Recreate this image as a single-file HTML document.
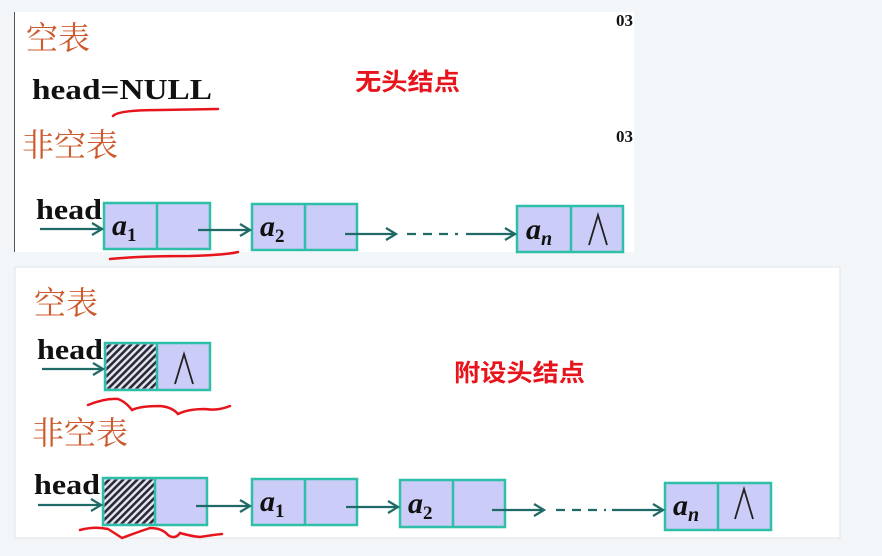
<!DOCTYPE html>
<html><head><meta charset="utf-8"><style>
html,body{margin:0;padding:0;background:#f3f6f8;}
svg{display:block;}
</style></head><body>
<svg width="882" height="556" viewBox="0 0 882 556" xmlns="http://www.w3.org/2000/svg" font-family="'Liberation Serif','Noto Serif CJK SC',serif">
<defs>
<pattern id="h" width="5" height="5" patternUnits="userSpaceOnUse" patternTransform="rotate(45)">
<rect width="5" height="5" fill="#e8e8f0"/><rect width="2.6" height="5" fill="#2a2a3a"/>
</pattern>
<marker id="ar" markerWidth="14" markerHeight="14" refX="12" refY="7" orient="auto" markerUnits="userSpaceOnUse">
<path d="M2,1 L12,7 L2,13" fill="none" stroke="#1f6a66" stroke-width="2.2"/>
</marker>
</defs>
<rect x="14" y="12" width="620" height="240" fill="#fff"/>
<line x1="14.5" y1="12" x2="14.5" y2="252" stroke="#555" stroke-width="1"/>
<rect x="15" y="267" width="825" height="271" fill="#fff" stroke="#e0e3e6"/>

<g fill="#cc5a2e" font-family="'Noto Serif CJK SC','Noto Sans CJK SC',serif" font-size="32">
<text x="26" y="49">空表</text>
<text x="22" y="156">非空表</text>
<text x="34" y="314">空表</text>
<text x="32" y="444">非空表</text>
</g>
<g font-weight="bold" fill="#111">
<text x="32" y="99" font-size="29" textLength="180" lengthAdjust="spacingAndGlyphs">head=NULL</text>
<text x="36" y="219" font-size="28" textLength="66" lengthAdjust="spacingAndGlyphs">head</text>
<text x="37" y="359" font-size="28" textLength="66" lengthAdjust="spacingAndGlyphs">head</text>
<text x="34" y="494" font-size="28" textLength="66" lengthAdjust="spacingAndGlyphs">head</text>
<text x="616" y="26" font-size="17">03</text>
<text x="616" y="142" font-size="17">03</text>
</g>
<g fill="#e8141c" font-family="'Noto Sans CJK SC',sans-serif" font-weight="bold" font-size="24">
<text x="355" y="90" textLength="105" lengthAdjust="spacingAndGlyphs">无头结点</text>
<text x="454" y="381" textLength="131" lengthAdjust="spacingAndGlyphs">附设头结点</text>
</g>

<g stroke="#2fbfa8" stroke-width="2.5" fill="#ccccf8">
<rect x="104" y="203" width="106" height="46"/><line x1="157" y1="203" x2="157" y2="249"/>
<rect x="252" y="204" width="105" height="46"/><line x1="305" y1="204" x2="305" y2="250"/>
<rect x="517" y="206" width="106" height="46"/><line x1="571" y1="206" x2="571" y2="252"/>
<rect x="105" y="343" width="105" height="47"/>
<rect x="103" y="478" width="104" height="47"/>
<rect x="252" y="479" width="105" height="46"/><line x1="305" y1="479" x2="305" y2="525"/>
<rect x="400" y="480" width="105" height="47"/><line x1="453" y1="480" x2="453" y2="527"/>
<rect x="665" y="483" width="106" height="47"/><line x1="718" y1="483" x2="718" y2="530"/>
</g>
<rect x="106.5" y="344.5" width="50" height="44" fill="url(#h)"/>
<line x1="157" y1="343" x2="157" y2="390" stroke="#2fbfa8" stroke-width="2.5"/>
<rect x="104.5" y="479.5" width="50" height="44" fill="url(#h)"/>
<line x1="155" y1="478" x2="155" y2="525" stroke="#2fbfa8" stroke-width="2.5"/>

<g font-style="italic" font-weight="bold" font-size="30" fill="#111">
<text x="112" y="235">a<tspan font-size="19" font-style="normal" dy="6">1</tspan></text>
<text x="260" y="236">a<tspan font-size="19" font-style="normal" dy="6">2</tspan></text>
<text x="526" y="239">a<tspan font-size="20" dy="6">n</tspan></text>
<text x="260" y="511">a<tspan font-size="19" font-style="normal" dy="6">1</tspan></text>
<text x="408" y="513">a<tspan font-size="19" font-style="normal" dy="6">2</tspan></text>
<text x="673" y="515">a<tspan font-size="20" dy="6">n</tspan></text>
</g>
<g fill="none" stroke="#222" stroke-width="1.8">
<path d="M589,245 L598,215 L607,245"/>
<path d="M175,384 L184,354 L193,384"/>
<path d="M735,519 L744,489 L753,519"/>
</g>

<g stroke="#1f6a66" stroke-width="2.2" fill="none" marker-end="url(#ar)">
<line x1="40" y1="229" x2="102" y2="229"/>
<line x1="198" y1="230" x2="250" y2="230"/>
<line x1="345" y1="234" x2="396" y2="234"/>
<line x1="466" y1="234" x2="515" y2="234"/>
<line x1="42" y1="369" x2="103" y2="369"/>
<line x1="38" y1="505" x2="101" y2="505"/>
<line x1="196" y1="506" x2="250" y2="506"/>
<line x1="346" y1="507" x2="398" y2="507"/>
<line x1="492" y1="510" x2="544" y2="510"/>
<line x1="612" y1="510" x2="663" y2="510"/>
</g>
<g stroke="#1f6a66" stroke-width="2.2" stroke-dasharray="9,7">
<line x1="407" y1="234" x2="458" y2="234"/>
<line x1="556" y1="510" x2="606" y2="510"/>
</g>

<g stroke="#e8141c" stroke-width="2.5" fill="none" stroke-linecap="round">
<path d="M113,116 Q118,110 160,110 L218,109"/>
<path d="M110,259 Q140,256 190,256 Q225,255 238,252"/>
<path d="M88,405 Q105,398 118,399 Q126,402 132,410 Q140,406 160,406 Q172,407 178,414 Q188,409 205,409 Q218,411 230,406"/>
<path d="M80,530 Q95,526 108,529 Q116,534 122,538 Q135,533 150,528 Q162,528 168,535 Q175,540 180,533 Q190,536 200,537 Q212,535 222,534"/>
</g>
</svg>
</body></html>
